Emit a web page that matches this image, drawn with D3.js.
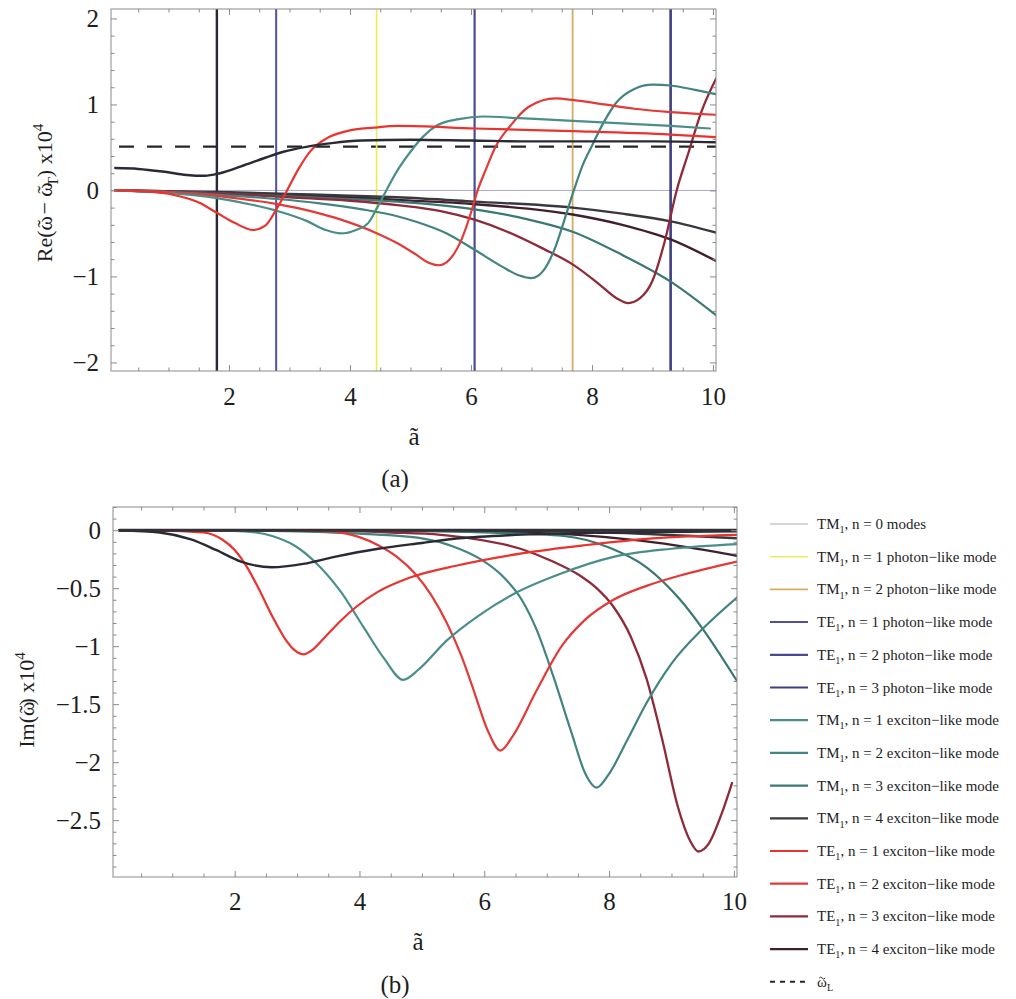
<!DOCTYPE html>
<html>
<head>
<meta charset="UTF-8">
<title>Re and Im of mode frequencies</title>
<style>
body{margin:0;background:#fff;}
svg text{font-family:"Liberation Serif","Times New Roman",serif;fill:#1e1e1e;}
</style>
</head>
<body>
<script src="https://cdn.jsdelivr.net/npm/d3@7/dist/d3.min.js"></script>
<script>
// tick values / labels
var xTicks = [2, 4, 6, 8, 10];
var reTicks = [-2, -1, 0, 1, 2];
var imTicks = [0, -0.5, -1, -1.5, -2, -2.5];

// photon-like modes appear as vertical lines in the Re plot
var photonX = [1.8, 2.78, 4.44, 6.06, 7.68, 9.3];
var photonMode = ["dark", "TE1", "TM1", "TE2", "TM2", "TE3"];
var omegaL = 0.51;

// Re(w - wT) x10^4 as [a, value]
var reDark = [[0.12,0.26],[0.5,0.25],[0.9,0.22],[1.3,0.18],[1.6,0.17],[1.85,0.2],[2.2,0.28],[2.6,0.38],[2.9,0.45],[3.3,0.51],[3.7,0.55],[4.2,0.58],[5,0.59],[6,0.58],[7,0.57],[8,0.57],[9,0.57],[10.05,0.56]];
var reTE1 = [[0.12,0],[0.8,-0.02],[1.2,-0.07],[1.5,-0.14],[1.8,-0.26],[2.1,-0.38],[2.4,-0.46],[2.6,-0.41],[2.8,-0.2],[2.96,0],[3.15,0.25],[3.35,0.46],[3.6,0.6],[3.95,0.69],[4.4,0.73],[4.8,0.75],[6.06,0.72],[7.68,0.69],[9.3,0.65],[10.05,0.62]];
var reTM1 = [[0.12,0],[1,-0.03],[1.8,-0.09],[2.4,-0.17],[2.8,-0.24],[3.3,-0.36],[3.6,-0.46],[3.85,-0.5],[4.1,-0.46],[4.3,-0.38],[4.45,-0.2],[4.6,0],[4.8,0.25],[5.0,0.45],[5.2,0.62],[5.45,0.76],[5.8,0.83],[6.2,0.86],[6.8,0.84],[7.68,0.81],[8.5,0.78],[9.3,0.75],[9.95,0.72]];
var reTE2 = [[0.12,0],[1,-0.02],[2,-0.08],[2.8,-0.16],[3.4,-0.25],[3.85,-0.34],[4.45,-0.5],[4.8,-0.62],[5.1,-0.75],[5.3,-0.84],[5.47,-0.87],[5.65,-0.8],[5.85,-0.56],[6.0,-0.26],[6.11,0],[6.25,0.25],[6.4,0.5],[6.66,0.76],[6.95,0.97],[7.4,1.07],[7.7,1.05],[8.2,1.0],[8.7,0.95],[9.3,0.91],[10.05,0.88]];
var reTM2 = [[0.12,0],[1,-0.02],[2,-0.06],[2.8,-0.1],[3.5,-0.15],[4.2,-0.22],[4.78,-0.3],[5.12,-0.37],[5.6,-0.5],[6.06,-0.69],[6.5,-0.88],[6.8,-0.99],[7.0,-1.02],[7.2,-0.93],[7.4,-0.65],[7.55,-0.33],[7.7,0],[7.85,0.3],[8.0,0.52],[8.2,0.8],[8.4,1.02],[8.7,1.18],[9.0,1.23],[9.3,1.22],[9.7,1.17],[10.05,1.12]];
var reTE3 = [[0.12,0],[1,-0.01],[2,-0.04],[3,-0.08],[4,-0.12],[4.78,-0.17],[5.5,-0.24],[6.06,-0.34],[6.6,-0.48],[7.2,-0.68],[7.68,-0.86],[8.1,-1.08],[8.4,-1.25],[8.6,-1.31],[8.8,-1.25],[9.0,-1.05],[9.2,-0.6],[9.4,0],[9.6,0.45],[9.8,0.9],[10.05,1.3]];
var reTM3 = [[0.12,0],[1,-0.01],[2,-0.04],[3,-0.07],[4,-0.1],[4.78,-0.13],[6.06,-0.22],[6.9,-0.33],[7.68,-0.48],[8.5,-0.75],[9.3,-1.06],[10.05,-1.45]];
var reTM4 = [[0.12,0],[2,-0.02],[3,-0.04],[4,-0.06],[4.78,-0.08],[6.06,-0.13],[7.68,-0.2],[8.5,-0.27],[9.3,-0.36],[10.05,-0.49]];
var reTE4 = [[0.12,0],[2,-0.03],[3,-0.05],[4,-0.08],[4.78,-0.11],[6.06,-0.16],[7.68,-0.28],[8.5,-0.4],[9.3,-0.57],[10.05,-0.82]];

// Im(w) x10^4
var imDark = [[0.15,0],[0.8,-0.02],[1.3,-0.08],[1.7,-0.17],[2.1,-0.27],[2.6,-0.32],[3.1,-0.29],[3.6,-0.23],[4.3,-0.16],[5.0,-0.11],[5.6,-0.07],[6.5,-0.04],[8,-0.02],[10.05,-0.01]];
var imTE1 = [[0.15,0],[1.0,-0.005],[1.5,-0.02],[1.8,-0.08],[2.0,-0.17],[2.2,-0.32],[2.4,-0.52],[2.6,-0.74],[2.8,-0.93],[2.95,-1.03],[3.1,-1.07],[3.25,-1.03],[3.45,-0.92],[3.7,-0.78],[3.95,-0.66],[4.3,-0.53],[4.8,-0.41],[5.6,-0.3],[6.6,-0.2],[7.6,-0.13],[8.7,-0.07],[10.05,-0.04]];
var imTM1 = [[0.15,0],[1.5,0],[2.15,-0.01],[2.6,-0.05],[2.95,-0.13],[3.3,-0.28],[3.7,-0.53],[4.07,-0.84],[4.4,-1.11],[4.7,-1.29],[4.95,-1.2],[5.4,-0.95],[5.9,-0.74],[6.47,-0.55],[7.2,-0.38],[8.07,-0.23],[9,-0.16],[10.05,-0.12]];
var imTE2 = [[0.15,0],[2.5,0],[3.5,-0.01],[4.0,-0.06],[4.3,-0.13],[4.6,-0.23],[4.9,-0.38],[5.15,-0.56],[5.4,-0.8],[5.63,-1.08],[5.83,-1.38],[6.05,-1.72],[6.26,-1.9],[6.45,-1.78],[6.84,-1.38],[7.24,-1.0],[7.6,-0.78],[8.07,-0.6],[8.6,-0.48],[9.14,-0.39],[10.05,-0.27]];
var imTM2 = [[0.15,0],[2,0],[3,-0.01],[4,-0.03],[5.0,-0.07],[5.5,-0.14],[5.94,-0.25],[6.3,-0.4],[6.6,-0.6],[6.84,-0.86],[7.1,-1.25],[7.4,-1.75],[7.62,-2.1],[7.8,-2.22],[8.0,-2.1],[8.3,-1.8],[8.6,-1.49],[9.0,-1.15],[9.5,-0.85],[10.05,-0.58]];
var imTE3 = [[0.15,0],[3,0],[4.5,-0.02],[5.3,-0.04],[5.78,-0.07],[6.58,-0.16],[7.1,-0.27],[7.5,-0.38],[7.8,-0.5],[8.07,-0.66],[8.35,-0.92],[8.6,-1.28],[8.85,-1.8],[9.1,-2.38],[9.3,-2.68],[9.43,-2.77],[9.6,-2.7],[9.8,-2.45],[9.97,-2.18]];
var imTM3 = [[0.15,0],[4,0],[6,-0.02],[7.27,-0.05],[8.0,-0.15],[8.6,-0.32],[9.14,-0.6],[9.5,-0.85],[10.05,-1.3]];
var imTE4 = [[0.15,0],[5,0],[6.5,-0.02],[7.5,-0.04],[8.5,-0.09],[9.3,-0.15],[10.05,-0.22]];
var imTM4 = [[0.15,0],[7,-0.01],[8.5,-0.03],[10.05,-0.07]];

// legend entries: [prefix, subscript, rest]
var legendLabels = [
	["TM","1",", n = 0 modes"],
	["TM","1",", n = 1 photon\u2212like mode"],
	["TM","1",", n = 2 photon\u2212like mode"],
	["TE","1",", n = 1 photon\u2212like mode"],
	["TE","1",", n = 2 photon\u2212like mode"],
	["TE","1",", n = 3 photon\u2212like mode"],
	["TM","1",", n = 1 exciton\u2212like mode"],
	["TM","1",", n = 2 exciton\u2212like mode"],
	["TM","1",", n = 3 exciton\u2212like mode"],
	["TM","1",", n = 4 exciton\u2212like mode"],
	["TE","1",", n = 1 exciton\u2212like mode"],
	["TE","1",", n = 2 exciton\u2212like mode"],
	["TE","1",", n = 3 exciton\u2212like mode"],
	["TE","1",", n = 4 exciton\u2212like mode"],
	["\u03c9","L",""]
];

// styles per mode
var style = {
	n0:  {c:"#aaaac6", w:1},
	pTM1:{c:"#ecec5a", w:1.6},
	pTM2:{c:"#d4ad62", w:1.8},
	pTE1:{c:"#50509e", w:2},
	pTE2:{c:"#4a4a94", w:2.2},
	pTE3:{c:"#3e3e80", w:2.6},
	dark:{c:"#2a2a34", w:2.4},
	TM1: {c:"#4a8e8a", w:2.2},
	TM2: {c:"#42847f", w:2.2},
	TM3: {c:"#3a7874", w:2.2},
	TM4: {c:"#38383e", w:2.4},
	TE1: {c:"#e8332f", w:2.2},
	TE2: {c:"#e23a38", w:2.2},
	TE3: {c:"#8e2a3a", w:2.3},
	TE4: {c:"#40202c", w:2.4},
	wL:  {c:"#262626", w:2.2}
};
var legendKeys = ["n0","pTM1","pTM2","pTE1","pTE2","pTE3","TM1","TM2","TM3","TM4","TE1","TE2","TE3","TE4","wL"];
var photonStyle = {dark:"dark", TE1:"pTE1", TM1:"pTM1", TE2:"pTE2", TM2:"pTM2", TE3:"pTE3"};

var svg = d3.select("body").append("svg").attr("width",1016).attr("height",999);

var x1 = d3.scaleLinear().domain([0.05,10.05]).range([111,716]);
var y1 = d3.scaleLinear().domain([-2.1,2.11]).range([371,9]);
var x2 = d3.scaleLinear().domain([0.05,10.05]).range([113,737]);
var y2 = d3.scaleLinear().domain([-2.99,0.2]).range([877,507]);

function fmt(v){ return (v<0?"\u2212":"") + Math.abs(v); }

function frame(x, y, yTicks, yMinor, cls){
	var x0 = x.range()[0], x1r = x.range()[1], yb = y.range()[0], yt = y.range()[1];
	var xMinor = d3.range(0.5,10.01,0.5).filter(function(v){return v%2!==0;});
	var g = svg.append("g").attr("class",cls);
	function styleAxis(a){
		a.select(".domain").remove();
		a.selectAll("line").attr("stroke","#8a8a8a");
		a.selectAll("text").style("font-size","25px").attr("fill","#1e1e1e")
			.style("font-family","'Liberation Serif','Times New Roman',serif");
	}
	// bottom
	g.append("g").attr("transform","translate(0,"+yb+")")
		.call(d3.axisBottom(x).tickValues(xTicks).tickSize(-6).tickPadding(cls==="top"?16:15).tickFormat(d3.format("d"))).call(styleAxis);
	g.append("g").attr("transform","translate(0,"+yb+")")
		.call(d3.axisBottom(x).tickValues(xMinor).tickSize(-3.5).tickFormat("")).call(styleAxis);
	// top
	g.append("g").attr("transform","translate(0,"+yt+")")
		.call(d3.axisTop(x).tickValues(xTicks).tickSize(-6).tickFormat("")).call(styleAxis);
	g.append("g").attr("transform","translate(0,"+yt+")")
		.call(d3.axisTop(x).tickValues(xMinor).tickSize(-3.5).tickFormat("")).call(styleAxis);
	// left
	g.append("g").attr("transform","translate("+x0+",0)")
		.call(d3.axisLeft(y).tickValues(yTicks).tickSize(-6).tickPadding(12).tickFormat(fmt)).call(styleAxis);
	g.append("g").attr("transform","translate("+x0+",0)")
		.call(d3.axisLeft(y).tickValues(yMinor).tickSize(-3.5).tickFormat("")).call(styleAxis);
	// right
	g.append("g").attr("transform","translate("+x1r+",0)")
		.call(d3.axisRight(y).tickValues(yTicks).tickSize(-6).tickFormat("")).call(styleAxis);
	g.append("g").attr("transform","translate("+x1r+",0)")
		.call(d3.axisRight(y).tickValues(yMinor).tickSize(-3.5).tickFormat("")).call(styleAxis);
	svg.append("rect").attr("x",x0).attr("y",yt).attr("width",x1r-x0).attr("height",yb-yt)
		.attr("fill","none").attr("stroke","#8a8a8a").attr("stroke-width",1);
}

function clipFor(id, x, y){
	svg.append("clipPath").attr("id",id).append("rect")
		.attr("x",x.range()[0]).attr("y",y.range()[1])
		.attr("width",x.range()[1]-x.range()[0]).attr("height",y.range()[0]-y.range()[1]);
}

function drawCurve(g, data, x, y, key){
	var line = d3.line().x(function(d){return x(d[0]);}).y(function(d){return y(d[1]);}).curve(d3.curveMonotoneX);
	g.append("path").attr("d",line(data)).attr("fill","none")
		.attr("stroke",style[key].c).attr("stroke-width",style[key].w)
		.attr("stroke-linejoin","round").attr("stroke-linecap","round");
}

// ---------- panel (a): real part ----------
clipFor("clipA", x1, y1);
var gA = svg.append("g").attr("clip-path","url(#clipA)");
gA.append("line").attr("x1",x1.range()[0]).attr("x2",x1.range()[1]).attr("y1",y1(0)).attr("y2",y1(0))
	.attr("stroke",style.n0.c).attr("stroke-width",style.n0.w);
gA.append("line").attr("x1",x1.range()[0]).attr("x2",x1.range()[1]).attr("y1",y1(omegaL)).attr("y2",y1(omegaL))
	.attr("stroke",style.wL.c).attr("stroke-width",style.wL.w).attr("stroke-dasharray","15,13").attr("stroke-dashoffset",-8);
photonX.forEach(function(v,i){
	var s = style[photonStyle[photonMode[i]]];
	gA.append("line").attr("x1",x1(v)).attr("x2",x1(v)).attr("y1",y1.range()[0]).attr("y2",y1.range()[1])
		.attr("stroke",s.c).attr("stroke-width",s.w);
});
drawCurve(gA, reTE4, x1, y1, "TE4");
drawCurve(gA, reTM4, x1, y1, "TM4");
drawCurve(gA, reTM3, x1, y1, "TM3");
drawCurve(gA, reTE3, x1, y1, "TE3");
drawCurve(gA, reTM2, x1, y1, "TM2");
drawCurve(gA, reTE2, x1, y1, "TE2");
drawCurve(gA, reTM1, x1, y1, "TM1");
drawCurve(gA, reTE1, x1, y1, "TE1");
drawCurve(gA, reDark, x1, y1, "dark");
frame(x1, y1, reTicks, d3.range(-2,2.01,0.2).map(function(v){return Math.round(v*10)/10;}).filter(function(v){return Math.round(v)!==v;}), "top");

// ---------- panel (b): imaginary part ----------
clipFor("clipB", x2, y2);
var gB = svg.append("g").attr("clip-path","url(#clipB)");
drawCurve(gB, imTM4, x2, y2, "TM4");
drawCurve(gB, imTE4, x2, y2, "TE4");
drawCurve(gB, imTM3, x2, y2, "TM3");
drawCurve(gB, imTE3, x2, y2, "TE3");
drawCurve(gB, imTM2, x2, y2, "TM2");
drawCurve(gB, imTE2, x2, y2, "TE2");
drawCurve(gB, imTM1, x2, y2, "TM1");
drawCurve(gB, imTE1, x2, y2, "TE1");
drawCurve(gB, imDark, x2, y2, "dark");
// photon-like modes have Im = 0: they pile up on the zero line
gB.append("line").attr("x1",x2(0.15)).attr("x2",x2.range()[1]).attr("y1",y2(0)).attr("y2",y2(0))
	.attr("stroke","#303036").attr("stroke-width",3);
frame(x2, y2, imTicks, d3.range(-2.9,0.21,0.1).map(function(v){return Math.round(v*10)/10;}).filter(function(v){return Math.round(v*2)/2!==v;}), "bottom");

// ---------- text helpers ----------
// parts: {t}, {t, sub}, {t, sup}, {w:true} for omega with a tilde over it
function richText(sel, parts, size){
	var shift = 0;
	parts.forEach(function(p){
		if(p.w){
			sel.append("tspan").text("\u03c9").attr("dy",-shift || null);
			shift = 0;
			sel.append("tspan").text("\u02dc").attr("dx",-0.52*size);
			sel.append("tspan").text("").attr("dx",0.19*size);
			return;
		}
		var t = sel.append("tspan").text(p.t);
		var want = p.sub ? size*0.28 : (p.sup ? -size*0.42 : 0);
		if(want-shift !== 0) t.attr("dy",want-shift);
		shift = want;
		if(p.sub || p.sup) t.attr("font-size",size*0.68);
	});
}
var lab1 = svg.append("text").attr("transform","translate(52,193) rotate(-90)")
	.attr("text-anchor","middle").attr("font-size",22);
richText(lab1, [{t:"Re("},{w:true},{t:" \u2212 "},{w:true},{t:"T",sub:true},{t:") x10"},{t:"4",sup:true}], 22);
var lab2 = svg.append("text").attr("transform","translate(34,700) rotate(-90)")
	.attr("text-anchor","middle").attr("font-size",22);
richText(lab2, [{t:"Im("},{w:true},{t:") x10"},{t:"4",sup:true}], 22);

svg.append("text").attr("x",414).attr("y",445).attr("text-anchor","middle").attr("font-size",25).text("\u00e3");
svg.append("text").attr("x",395).attr("y",487).attr("text-anchor","middle").attr("font-size",25).text("(a)");
svg.append("text").attr("x",418).attr("y",950).attr("text-anchor","middle").attr("font-size",25).text("\u00e3");
svg.append("text").attr("x",395).attr("y",993).attr("text-anchor","middle").attr("font-size",25).text("(b)");

// ---------- legend ----------
var lg = svg.append("g").attr("class","legend");
legendLabels.forEach(function(lab,i){
	var yy = 524 + i*32.7;
	var s = style[legendKeys[i]];
	var ln = lg.append("line").attr("x1",770).attr("x2",808).attr("y1",yy).attr("y2",yy)
		.attr("stroke",s.c).attr("stroke-width",Math.min(s.w,2.2));
	if(legendKeys[i]==="wL"){
		ln.attr("stroke-dasharray","5,5").attr("stroke-width",2);
		// small tilde over the omega, drawn as a path
		var tx = 817 + 5.2, ty = yy - 4.5;
		lg.append("path").attr("d","M"+(tx-3)+","+(ty+0.8)+" q1.5,-2 3,0 t3,0")
			.attr("fill","none").attr("stroke","#1e1e1e").attr("stroke-width",0.9);
	}
	var t = lg.append("text").attr("x",817).attr("y",yy+5).attr("font-size",15);
	richText(t, [{t:lab[0]},{t:lab[1],sub:true},{t:lab[2]}], 15);
});
</script>
</body>
</html>
